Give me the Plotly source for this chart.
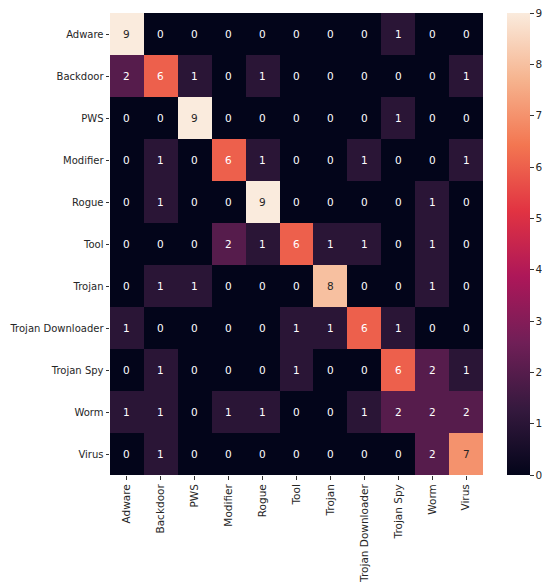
import plotly.graph_objects as go

labels = ["Adware", "Backdoor", "PWS", "Modifier", "Rogue", "Tool", "Trojan",
          "Trojan Downloader", "Trojan Spy", "Worm", "Virus"]

# confusion matrix rows (true) x cols (predicted)
cm = [
    [9, 0, 0, 0, 0, 0, 0, 0, 1, 0, 0],
    [2, 6, 1, 0, 1, 0, 0, 0, 0, 0, 1],
    [0, 0, 9, 0, 0, 0, 0, 0, 1, 0, 0],
    [0, 1, 0, 6, 1, 0, 0, 1, 0, 0, 1],
    [0, 1, 0, 0, 9, 0, 0, 0, 0, 1, 0],
    [0, 0, 0, 2, 1, 6, 1, 1, 0, 1, 0],
    [0, 1, 1, 0, 0, 0, 8, 0, 0, 1, 0],
    [1, 0, 0, 0, 0, 1, 1, 6, 1, 0, 0],
    [0, 1, 0, 0, 0, 1, 0, 0, 6, 2, 1],
    [1, 1, 0, 1, 1, 0, 0, 1, 2, 2, 2],
    [0, 1, 0, 0, 0, 0, 0, 0, 0, 2, 7],
]

cbar_ticks = [0, 1, 2, 3, 4, 5, 6, 7, 8, 9]

# approx seaborn "rocket"
rocket = [
    [0.0, "#03051a"],
    [0.143, "#35193e"],
    [0.286, "#701f57"],
    [0.429, "#ad1759"],
    [0.571, "#e13342"],
    [0.714, "#f37651"],
    [0.857, "#f6b48f"],
    [1.0, "#faebdd"],
]

fnt = dict(family="DejaVu Sans", size=10.5, color="#262626")
yfnt = dict(family="DejaVu Sans", size=10, color="#262626")

fig = go.Figure()
fig.add_trace(go.Heatmap(
    z=cm, x=labels, y=labels,
    colorscale=rocket, zmin=0, zmax=9.0001,  # tiny pad so the "9" tick shows
    colorbar=dict(
        thickness=23, len=1, lenmode="fraction", y=0.5, yanchor="middle",
        x=1.0643, xanchor="left", xpad=0, ypad=0, outlinewidth=0,
        tickvals=cbar_ticks, ticks="outside", ticklen=4, tickcolor="#333",
        tickfont=fnt, ticklabeloverflow="allow",
    ),
))

# cell annotations, dark text on light cells
for i, row in enumerate(cm):
    for j, v in enumerate(row):
        fig.add_annotation(
            x=labels[j], y=labels[i], text=str(v), showarrow=False,
            font=dict(family="DejaVu Sans", size=10.5,
                      color="#262626" if v >= 7 else "white"),
        )

fig.update_xaxes(
    tickangle=-90, ticks="outside", ticklen=4, tickcolor="#333",
    showgrid=False, zeroline=False, automargin=False, tickfont=fnt,
)
fig.update_yaxes(
    autorange="reversed", ticks="outside", ticklen=3.5, tickcolor="#333",
    showgrid=False, zeroline=False, automargin=False, tickfont=yfnt,
)
# page body has an 8px margin, so the figure is a bit smaller than the window
fig.update_layout(
    width=542, height=580,
    margin=dict(l=102, r=67, t=5, b=113, autoexpand=False),
    plot_bgcolor="white", paper_bgcolor="white",
)

fig.write_html("out.html")
